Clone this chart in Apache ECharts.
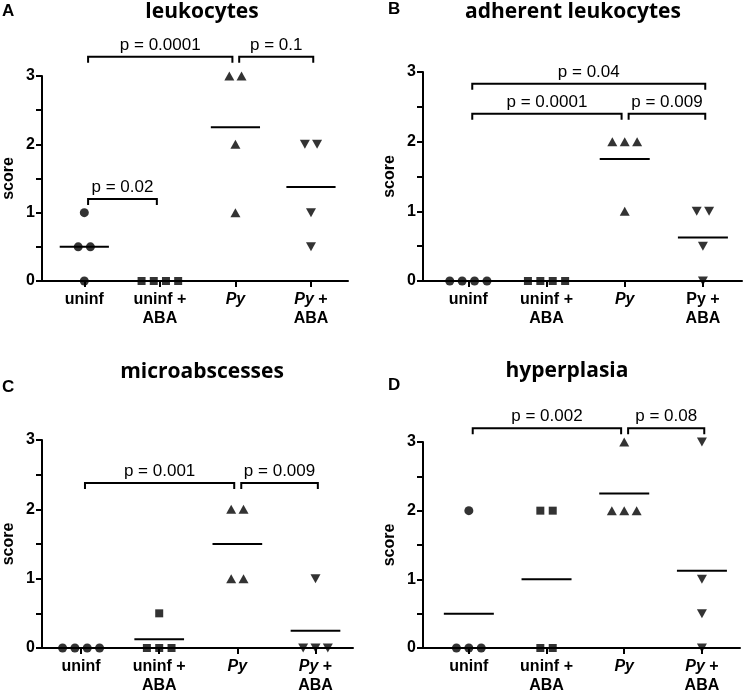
<!DOCTYPE html>
<html>
<head>
<meta charset="utf-8">
<script src="https://cdn.jsdelivr.net/npm/echarts@6/dist/echarts.min.js"></script>
<style>
  html, body { margin: 0; background: #fff; }
  #main { width: 743px; height: 695px; }
</style>
</head>
<body>
<div id="main"></div>
<script>
  // groups on the x axis (rich text: {i|..} is italic)
  const groups = ['uninf', 'uninf +\nABA', '{i|Py}', '{i|Py} +\nABA']
  const groupsB = ['uninf', 'uninf +\nABA', '{i|Py}', 'Py +\nABA']
  const yTicks = [0, 1, 2, 3]
  const panelLetters = ['A', 'B', 'C', 'D']
  const panelTitles = ['leukocytes', 'adherent leukocytes', 'microabscesses', 'hyperplasia']

  // scores per animal, one list per group
  const leukocytes = [[1, 0.5, 0.5, 0], [0, 0, 0, 0], [3, 3, 2, 1], [2, 2, 1, 0.5]]
  const adherent = [[0, 0, 0, 0], [0, 0, 0, 0], [2, 2, 2, 1], [1, 1, 0.5, 0]]
  const microabscesses = [[0, 0, 0, 0], [0.5, 0, 0, 0], [2, 2, 1, 1], [1, 0, 0, 0]]
  const hyperplasia = [[2, 0, 0, 0], [2, 2, 0, 0], [3, 2, 2, 2], [3, 1, 0.5, 0]]

  // brackets: [from group, to group, height in score units, label]
  const leukocytesP = [[0, 2, 3.28, 'p = 0.0001'], [2, 3, 3.28, 'p = 0.1'], [0, 1, 1.2, 'p = 0.02']]
  const adherentP = [[0, 3, 2.83, 'p = 0.04'], [0, 2, 2.4, 'p = 0.0001'], [2, 3, 2.4, 'p = 0.009']]
  const microabscessesP = [[0, 2, 2.38, 'p = 0.001'], [2, 3, 2.38, 'p = 0.009']]
  const hyperplasiaP = [[0, 2, 3.2, 'p = 0.002'], [2, 3, 3.2, 'p = 0.08']]

  const panelData = [leukocytes, adherent, microabscesses, hyperplasia]
  const panelP = [leukocytesP, adherentP, microabscessesP, hyperplasiaP]
  const panelLabels = [groups, groupsB, groups, groups]

  // layout
  const grids = [
    { left: 37, top: 76, width: 311, height: 205 },
    { left: 423, top: 72, width: 319, height: 209 },
    { left: 40, top: 440, width: 313, height: 210 },
    { left: 423, top: 442, width: 317, height: 208 }
  ]
  const xRange = [[0.44, 4.49], [0.42, 4.5], [0.5, 4.48], [0.41, 4.49]]
  const titlePos = [[202, 2], [573, 2], [202, 362], [567, 361]]
  const letterPos = [[2, 3], [388, 1], [2, 379], [388, 377]]

  const font = 'Liberation Sans'
  const symbols = ['circle', 'rect', 'triangle', 'triangle']
  const symbolSizes = [9, 8, [10, 9], [10, 9]]
  const symbolRotates = [0, 0, 0, 180]

  let chart = echarts.init(document.getElementById('main'))

  let option = {
    animation: false,
    backgroundColor: '#fff',
    title: [],
    grid: [],
    xAxis: [],
    yAxis: [],
    series: []
  }

  panelData.forEach(function (data, p) {
    option.title.push({
      text: panelTitles[p],
      left: titlePos[p][0],
      top: titlePos[p][1],
      textAlign: 'center',
      padding: 0,
      textStyle: { fontFamily: 'Open Sans', fontWeight: 'bold', fontSize: 21, color: '#000' }
    })
    option.title.push({
      text: panelLetters[p],
      left: letterPos[p][0],
      top: letterPos[p][1],
      padding: 0,
      textStyle: { fontFamily: font, fontWeight: 'bold', fontSize: 17, color: '#000' }
    })
    option.grid.push(grids[p])

    let labels = panelLabels[p]
    option.xAxis.push({
      gridIndex: p,
      type: 'value',
      min: xRange[p][0],
      max: xRange[p][1],
      splitLine: { show: false },
      axisLine: { lineStyle: { color: '#000', width: 2 } },
      axisTick: { customValues: [1, 2, 3, 4], length: 6, lineStyle: { color: '#000', width: 2 } },
      axisLabel: {
        customValues: [1, 2, 3, 4],
        formatter: function (v) { return labels[Math.round(v) - 1] },
        color: '#000',
        fontFamily: font,
        fontWeight: 'bold',
        fontSize: 16,
        lineHeight: 19,
        margin: 9,
        rich: {
          i: { fontStyle: 'italic', fontWeight: 'bold', fontFamily: font, fontSize: 16, lineHeight: 19, color: '#000' }
        }
      }
    })
    option.yAxis.push({
      gridIndex: p,
      type: 'value',
      min: yTicks[0],
      max: yTicks[yTicks.length - 1],
      interval: (yTicks[1] - yTicks[0]) / 2,
      name: 'score',
      nameLocation: 'middle',
      nameGap: 25,
      nameRotate: 90,
      nameTextStyle: { fontFamily: font, fontWeight: 'bold', fontSize: 16, color: '#000' },
      splitLine: { show: false },
      axisLine: { show: true, lineStyle: { color: '#000', width: 2 } },
      axisTick: { show: true, length: 6, lineStyle: { color: '#000', width: 2 } },
      axisLabel: {
        color: '#000', fontFamily: font, fontWeight: 'bold', fontSize: 16, margin: 7,
        formatter: function (v) { return yTicks.indexOf(v) >= 0 ? String(v) : '' }
      }
    })

    // spread tied values sideways like a column scatter
    let g = grids[p]
    let step = 12.4 * (xRange[p][1] - xRange[p][0]) / g.width
    data.forEach(function (vals, gi) {
      let counts = {}
      vals.forEach(function (v) { counts[v] = (counts[v] || 0) + 1 })
      let seen = {}
      let pts = vals.map(function (v) {
        let k = seen[v] || 0
        seen[v] = k + 1
        return [gi + 1 + (k - (counts[v] - 1) / 2) * step, v]
      })
      option.series.push({
        type: 'scatter',
        xAxisIndex: p,
        yAxisIndex: p,
        symbol: symbols[gi],
        symbolSize: symbolSizes[gi],
        symbolRotate: symbolRotates[gi],
        itemStyle: { color: '#000' },
        data: pts,
        z: 5
      })
    })

    // mean lines
    let means = data.map(function (vals, gi) {
      return [gi + 1, vals.reduce(function (a, b) { return a + b }, 0) / vals.length]
    })
    let half = 25 * (xRange[p][1] - xRange[p][0]) / g.width
    option.series.push({
      type: 'custom',
      xAxisIndex: p,
      yAxisIndex: p,
      clip: false,
      data: means,
      renderItem: function (params, api) {
        let a = api.coord([api.value(0) - half, api.value(1)])
        let b = api.coord([api.value(0) + half, api.value(1)])
        return {
          type: 'line',
          shape: { x1: a[0], y1: a[1], x2: b[0], y2: b[1] },
          style: { stroke: '#000', lineWidth: 2 }
        }
      }
    })

    // significance brackets
    let brackets = panelP[p]
    option.series.push({
      type: 'custom',
      xAxisIndex: p,
      yAxisIndex: p,
      clip: false,
      data: brackets.map(function (b) { return [b[0] + 1, b[2], b[1] + 1] }),
      renderItem: function (params, api) {
        let b = brackets[params.dataIndex]
        let x1 = b[0] + 1 + 0.05
        let x2 = b[1] + 1 + (b[1] === 3 ? 0.03 : -0.04)
        let p1 = api.coord([x1, b[2]])
        let p2 = api.coord([x2, b[2]])
        return {
          type: 'group',
          children: [
            {
              type: 'polyline',
              shape: { points: [[p1[0], p1[1] + 6], [p1[0], p1[1]], [p2[0], p2[1]], [p2[0], p2[1] + 6]] },
              style: { stroke: '#000', lineWidth: 2, fill: null }
            },
            {
              type: 'text',
              x: (p1[0] + p2[0]) / 2,
              y: p1[1] - 3,
              style: {
                text: b[3],
                fill: '#000',
                fontFamily: font,
                fontSize: 17,
                align: 'center',
                verticalAlign: 'bottom'
              }
            }
          ]
        }
      }
    })
  })

  chart.setOption(option)
</script>
</body>
</html>
